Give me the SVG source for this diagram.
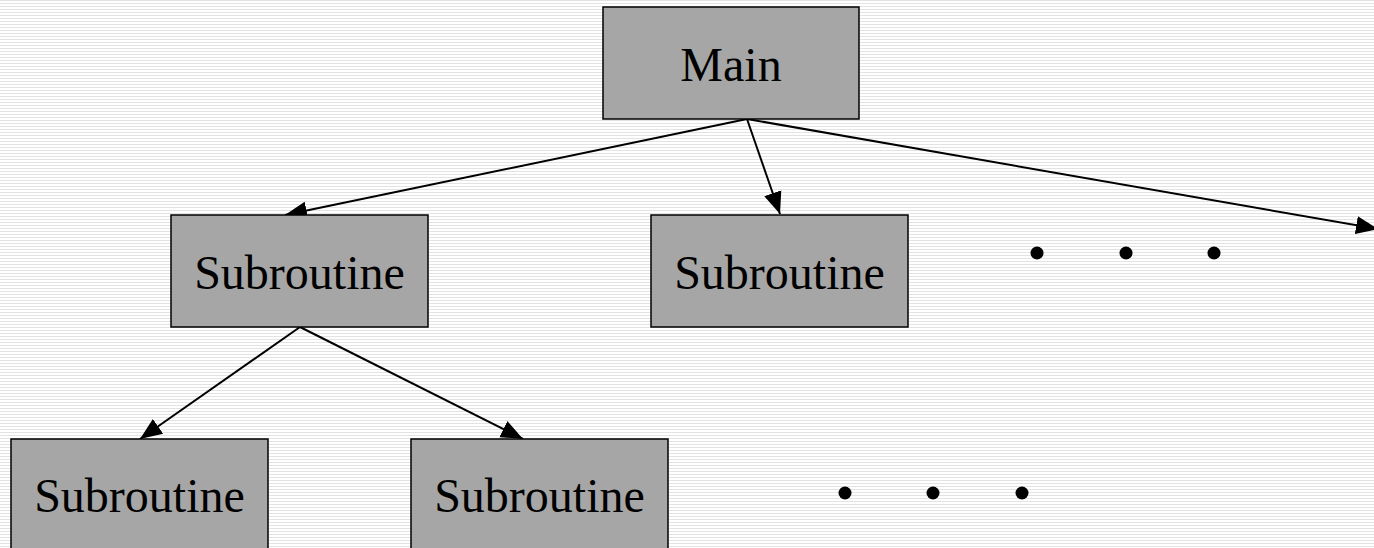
<svg xmlns="http://www.w3.org/2000/svg" width="1374" height="548" viewBox="0 0 1374 548">
<defs>
<pattern id="stripes" x="0" y="0" width="8" height="3" patternUnits="userSpaceOnUse">
<rect x="0" y="0" width="8" height="3" fill="#ffffff"/>
<rect x="0" y="0" width="8" height="1" fill="#e3e3e3"/>
</pattern>
<marker id="arrow" markerUnits="userSpaceOnUse" markerWidth="24" markerHeight="20" refX="22" refY="10" orient="auto">
<path d="M0,1 L22,10 L0,19 Z" fill="#000"/>
</marker>
</defs>
<style>
.box{fill:#a6a6a6;stroke:#000;stroke-width:1.5}
.lbl{font-family:"Liberation Serif","Times New Roman",serif;font-size:48px;fill:#000;text-anchor:middle}
.conn{stroke:#000;stroke-width:2;fill:none}
.dot{fill:#000}
</style>
<rect x="0" y="0" width="1374" height="548" fill="url(#stripes)"/>
<g id="connectors">
<line class="conn" x1="747" y1="119" x2="285" y2="215" marker-end="url(#arrow)"/>
<line class="conn" x1="747" y1="119" x2="780" y2="214" marker-end="url(#arrow)"/>
<line class="conn" x1="747" y1="119" x2="1378" y2="229" marker-end="url(#arrow)"/>
<line class="conn" x1="300" y1="327" x2="140" y2="439" marker-end="url(#arrow)"/>
<line class="conn" x1="300" y1="327" x2="523" y2="439" marker-end="url(#arrow)"/>
</g>
<g id="main">
<rect class="box" x="603" y="7" width="256" height="112"/>
<text class="lbl" x="731" y="81">Main</text>
</g>
<g id="sub1">
<rect class="box" x="171" y="215" width="257" height="112"/>
<text class="lbl" x="299.5" y="289">Subroutine</text>
</g>
<g id="sub2">
<rect class="box" x="651" y="215" width="257" height="112"/>
<text class="lbl" x="779.5" y="289">Subroutine</text>
</g>
<g id="sub3">
<rect class="box" x="11" y="439" width="257" height="120"/>
<text class="lbl" x="139.5" y="512">Subroutine</text>
</g>
<g id="sub4">
<rect class="box" x="411" y="439" width="257" height="120"/>
<text class="lbl" x="539.5" y="512">Subroutine</text>
</g>
<g id="dots-top">
<circle class="dot" cx="1037" cy="253" r="6.5"/>
<circle class="dot" cx="1126" cy="253" r="6.5"/>
<circle class="dot" cx="1214" cy="253" r="6.5"/>
</g>
<g id="dots-bottom">
<circle class="dot" cx="845" cy="493" r="6.5"/>
<circle class="dot" cx="933" cy="493" r="6.5"/>
<circle class="dot" cx="1022" cy="493" r="6.5"/>
</g>
</svg>
